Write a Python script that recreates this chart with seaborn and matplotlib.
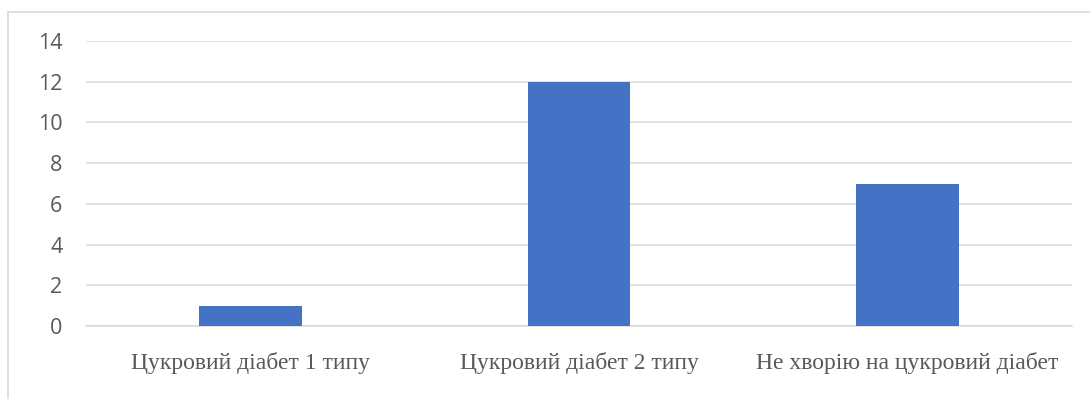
import matplotlib
matplotlib.use("Agg")
import matplotlib.pyplot as plt
import matplotlib.patches as mpatches
import seaborn as sns
import pandas as pd

categories = ["Цукровий діабет 1 типу", "Цукровий діабет 2 типу", "Не хворію на цукровий діабет"]
values = [1, 12, 7]
y_ticks = [0, 2, 4, 6, 8, 10, 12, 14]

sns.set_theme(style="white")
plt.rcParams["font.family"] = ["Open Sans", "DejaVu Sans"]

df = pd.DataFrame({"category": categories, "value": values})

fig = plt.figure(figsize=(10.9, 3.99), dpi=100)
ax = fig.add_axes([86 / 1090, 1 - 326 / 399, (1072 - 86) / 1090, (326 - 41) / 399])

grid_color = "#D9D9D9"
text_color = "#595959"

sns.barplot(data=df, x="category", y="value", color="#4472C4", saturation=1,
            width=0.313, linewidth=0, ax=ax, zorder=3)

ax.set_ylim(0, 14)
ax.set_yticks(y_ticks)
ax.set_xlim(-0.5, len(categories) - 0.5)
ax.yaxis.grid(True, color=grid_color, linewidth=1.1, zorder=0)
ax.set_axisbelow(True)
for side in ["top", "right", "left"]:
    ax.spines[side].set_visible(False)
ax.spines["bottom"].set_color(grid_color)
ax.spines["bottom"].set_linewidth(1.1)
ax.spines["bottom"].set_zorder(1)

ax.set_xlabel("")
ax.set_ylabel("")
ax.tick_params(axis="y", length=0, pad=17, labelsize=15.5, labelcolor=text_color)
ax.tick_params(axis="x", length=0, pad=19, labelcolor=text_color)
for lbl in ax.get_xticklabels():
    lbl.set_fontfamily(["Liberation Serif", "DejaVu Serif"])
    lbl.set_fontsize(17)

# chart-area frame
frame = mpatches.Rectangle((7.5 / 1090, -0.1), 1.2, 1 - 12.5 / 399 + 0.1,
                           transform=fig.transFigure, fill=False,
                           edgecolor=grid_color, linewidth=1.2)
fig.patches.append(frame)

fig.savefig("out.png", dpi=100)
